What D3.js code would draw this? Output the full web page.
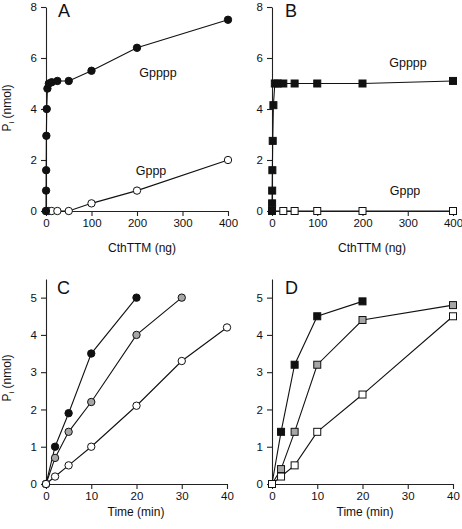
<!DOCTYPE html>
<html><head><meta charset="utf-8">
<script src="https://cdn.jsdelivr.net/npm/d3@7"></script>
<style>
html,body{margin:0;padding:0;background:#fff;}
text{font-family:"Liberation Sans",Arial,sans-serif;fill:#111;}
</style></head>
<body>
<svg id="c" width="462" height="529"></svg>
<script>
// ---- Data ----
// Panel A (circles) : Pi (nmol) vs CthTTM (ng)
const aGppppX = [0, 0.2, 0.4, 0.8, 1.6, 3.1, 6.25, 12.5, 25, 50, 100, 200, 400];
const aGppppY = [0, 0.8, 1.6, 2.95, 4.0, 4.8, 5.0, 5.05, 5.1, 5.1, 5.5, 6.4, 7.5];
const aGpppX  = [0, 6.25, 12.5, 25, 50, 100, 200, 400];
const aGpppY  = [0, 0, 0, 0, 0, 0.3, 0.8, 2.0];
// Panel B (squares)
const bGppppX = [0, 0.2, 0.4, 0.8, 1.6, 3.1, 6.25, 12.5, 25, 50, 100, 200, 400];
const bGppppY = [0, 0.3, 0.8, 1.6, 2.75, 4.15, 5.0, 5.0, 5.0, 5.0, 5.0, 5.0, 5.1];
const bGpppX  = [0, 25, 50, 100, 200, 400];
const bGpppY  = [0, 0, 0, 0, 0, 0];
// Panel C (circles) : Pi vs time
const cBlackX = [0, 2, 5, 10, 20];
const cBlackY = [0, 1.0, 1.9, 3.5, 5.0];
const cGrayX  = [0, 2, 5, 10, 20, 30];
const cGrayY  = [0, 0.7, 1.4, 2.2, 4.0, 5.0];
const cWhiteX = [0, 2, 5, 10, 20, 30, 40];
const cWhiteY = [0, 0.2, 0.5, 1.0, 2.1, 3.3, 4.2];
// Panel D (squares)
const dBlackX = [0, 2, 5, 10, 20];
const dBlackY = [0, 1.4, 3.2, 4.5, 4.9];
const dGrayX  = [0, 2, 5, 10, 20, 40];
const dGrayY  = [0, 0.4, 1.4, 3.2, 4.4, 4.8];
const dWhiteX = [0, 2, 5, 10, 20, 40];
const dWhiteY = [0, 0.2, 0.5, 1.4, 2.4, 4.5];
// Tick labels
const ngTicks = [0, 100, 200, 300, 400];
const piTicksTop = [0, 2, 4, 6, 8];
const timeTicks = [0, 10, 20, 30, 40];
const piTicksBottom = [0, 1, 2, 3, 4, 5];

const svg = d3.select("#c");
const zip = (xs, ys) => xs.map((x, i) => ({x, y: ys[i]}));

function panel(cfg) {
  const x = d3.scaleLinear().domain(cfg.xd).range(cfg.xr);
  const y = d3.scaleLinear().domain(cfg.yd).range(cfg.yr);
  const g = svg.append("g");
  const ax = g.append("g").attr("transform", `translate(0,${cfg.yr[0]})`)
    .call(d3.axisBottom(x).tickValues(cfg.xt).tickSize(5).tickSizeOuter(0).tickPadding(3).tickFormat(d3.format("d")));
  const ay = g.append("g").attr("transform", `translate(${cfg.xr[0]},0)`)
    .call(d3.axisLeft(y).tickValues(cfg.yt).tickSize(5).tickSizeOuter(0).tickPadding(4).tickFormat(d3.format("d")));
  [ax, ay].forEach(a => {
    a.selectAll("path.domain").attr("stroke", "#222").attr("stroke-width", 1.1);
    a.selectAll(".tick line").attr("stroke", "#222").attr("stroke-width", 1.1);
    a.selectAll(".tick text").attr("font-size", 11.5).attr("font-family", "Liberation Sans, Arial, sans-serif").attr("fill", "#111");
  });
  g.append("text").attr("x", cfg.letter[0]).attr("y", cfg.letter[1]).attr("font-size", 18).text(cfg.letterText);
  g.append("text").attr("x", cfg.xlab[0]).attr("y", cfg.xlab[1]).attr("text-anchor", "middle").attr("font-size", 12).text(cfg.xlabText);
  if (cfg.ylab) {
    const t = g.append("text").attr("transform", `translate(${cfg.ylab[0]},${cfg.ylab[1]}) rotate(-90)`)
      .attr("text-anchor", "middle").attr("font-size", 12);
    t.append("tspan").text("P");
    t.append("tspan").attr("font-size", 8).attr("dy", 3).text("i");
    t.append("tspan").attr("dy", -3).text(" (nmol)");
  }
  const line = d3.line().x(d => x(d.x)).y(d => y(d.y));
  cfg.series.forEach(s => {
    const pts = zip(s.xs, s.ys);
    g.append("path").datum(pts).attr("d", line).attr("fill", "none").attr("stroke", "#111").attr("stroke-width", 1.1);
  });
  cfg.series.forEach(s => {
    const pts = zip(s.xs, s.ys);
    if (cfg.shape === "circle") {
      g.selectAll(null).data(pts).enter().append("circle")
        .attr("cx", d => x(d.x)).attr("cy", d => y(d.y)).attr("r", 3.7)
        .attr("fill", s.fill).attr("stroke", "#111").attr("stroke-width", 1);
    } else {
      const h = 3.5;
      g.selectAll(null).data(pts).enter().append("rect")
        .attr("x", d => x(d.x) - h).attr("y", d => y(d.y) - h).attr("width", 2*h).attr("height", 2*h)
        .attr("fill", s.fill).attr("stroke", "#111").attr("stroke-width", 1);
    }
  });
  (cfg.notes || []).forEach(n => {
    g.append("text").attr("x", n[0]).attr("y", n[1]).attr("text-anchor", "middle").attr("font-size", 12.5).text(n[2]);
  });
}

panel({xd:[0,400], xr:[46,228], yd:[0,8], yr:[211,7], xt:ngTicks, yt:piTicksTop,
  letter:[58,17], letterText:"A", xlab:[142,252], xlabText:"CthTTM (ng)", ylab:[11,108], shape:"circle",
  series:[{xs:aGpppX, ys:aGpppY, fill:"#fff"},{xs:aGppppX, ys:aGppppY, fill:"#111"}],
  notes:[[158,77,"Gpppp"],[151,175,"Gppp"]]});
panel({xd:[0,400], xr:[272,453], yd:[0,8], yr:[211,7], xt:ngTicks, yt:piTicksTop,
  letter:[285,17], letterText:"B", xlab:[372,252], xlabText:"CthTTM (ng)", shape:"square",
  series:[{xs:bGpppX, ys:bGpppY, fill:"#fff"},{xs:bGppppX, ys:bGppppY, fill:"#111"}],
  notes:[[408,67,"Gpppp"],[405,195,"Gppp"]]});
panel({xd:[0,40], xr:[46,227], yd:[0,5.5], yr:[484,279], xt:timeTicks, yt:piTicksBottom,
  letter:[57,294], letterText:"C", xlab:[136,516], xlabText:"Time  (min)", ylab:[11,378], shape:"circle",
  series:[{xs:cBlackX, ys:cBlackY, fill:"#111"},{xs:cGrayX, ys:cGrayY, fill:"#a6a6a6"},{xs:cWhiteX, ys:cWhiteY, fill:"#fff"}]});
panel({xd:[0,40], xr:[272,453], yd:[0,5.5], yr:[484,279], xt:timeTicks, yt:piTicksBottom,
  letter:[285,294], letterText:"D", xlab:[365,516], xlabText:"Time  (min)", shape:"square",
  series:[{xs:dBlackX, ys:dBlackY, fill:"#111"},{xs:dGrayX, ys:dGrayY, fill:"#a6a6a6"},{xs:dWhiteX, ys:dWhiteY, fill:"#fff"}]});
</script>
</body></html>
